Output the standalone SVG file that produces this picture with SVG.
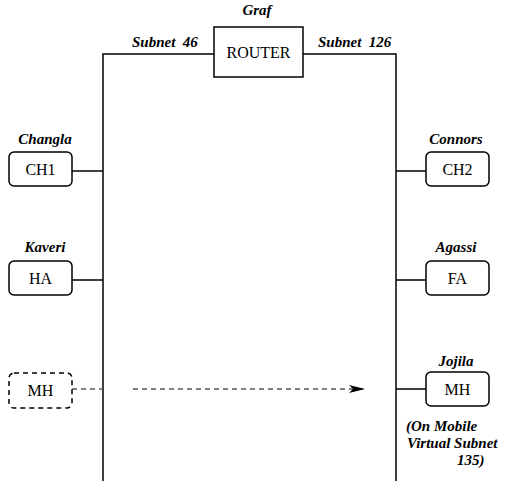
<svg xmlns="http://www.w3.org/2000/svg" width="507" height="481" viewBox="0 0 507 481">
<defs>
<style>
.box{fill:#fff;stroke:#000;stroke-width:1.5}
.dbox{fill:#fff;stroke:#000;stroke-width:1.5;stroke-dasharray:5,4}
.ln{stroke:#000;stroke-width:1.5;fill:none}
.dl{stroke:#555;stroke-width:1.5;fill:none;stroke-dasharray:5,4}
.nt{font-family:'Liberation Serif','Times New Roman',Times,'DejaVu Serif',serif;font-size:16px;text-anchor:middle;fill:#000}
.lb{font-family:'Liberation Serif','Times New Roman',Times,'DejaVu Serif',serif;font-size:15px;font-weight:bold;font-style:italic;fill:#000}
.c{text-anchor:middle}
</style>
<marker id="arr" viewBox="0 0 16 8" refX="15" refY="4" markerWidth="16" markerHeight="8" markerUnits="userSpaceOnUse" orient="auto">
<path d="M0,0 L16,4 L0,8 L4,4 Z" fill="#000"/>
</marker>
</defs>
<rect width="507" height="481" fill="#fff"/>
<g id="connectors">
<path class="ln" d="M103,481 V54 H214"/>
<path class="ln" d="M303,54 H396 V481"/>
<line class="ln" x1="72" y1="171" x2="103" y2="171"/>
<line class="ln" x1="72" y1="280" x2="103" y2="280"/>
<line class="ln" x1="396" y1="171" x2="426" y2="171"/>
<line class="ln" x1="396" y1="280" x2="426" y2="280"/>
<line class="ln" x1="396" y1="389" x2="426" y2="389"/>
<line class="dl" x1="72" y1="389" x2="103" y2="389"/>
<line class="dl" x1="133" y1="389" x2="364" y2="389" marker-end="url(#arr)"/>
</g>
<g id="router">
<rect class="box" x="214" y="27" width="89" height="50"/>
<text class="nt" x="258.5" y="58" font-family="Liberation Serif, serif">ROUTER</text>
<text class="lb c" x="257" y="15">Graf</text>
</g>
<text class="lb" x="132" y="47" xml:space="preserve">Subnet  46</text>
<text class="lb" x="318" y="47" xml:space="preserve">Subnet  126</text>
<g id="ch1">
<rect class="box" x="9" y="152" width="63" height="34" rx="5"/>
<text class="nt" x="40.5" y="175">CH1</text>
<text class="lb c" x="45" y="144">Changla</text>
</g>
<g id="ha">
<rect class="box" x="9" y="261" width="63" height="34" rx="5"/>
<text class="nt" x="40.5" y="284">HA</text>
<text class="lb c" x="45" y="252">Kaveri</text>
</g>
<g id="mh-old">
<rect class="dbox" x="9" y="373" width="63" height="35" rx="5"/>
<text class="nt" x="40.5" y="396">MH</text>
</g>
<g id="ch2">
<rect class="box" x="426" y="152" width="63" height="34" rx="5"/>
<text class="nt" x="457.5" y="175">CH2</text>
<text class="lb c" x="456" y="144">Connors</text>
</g>
<g id="fa">
<rect class="box" x="426" y="261" width="63" height="34" rx="5"/>
<text class="nt" x="457.5" y="284">FA</text>
<text class="lb c" x="456" y="252">Agassi</text>
</g>
<g id="mh">
<rect class="box" x="426" y="372" width="63" height="34" rx="5"/>
<text class="nt" x="457.5" y="395">MH</text>
<text class="lb c" x="456" y="366">Jojila</text>
<text class="lb" x="406" y="431">(On Mobile</text>
<text class="lb" x="407" y="448">Virtual Subnet</text>
<text class="lb" x="457" y="465">135)</text>
</g>
</svg>
